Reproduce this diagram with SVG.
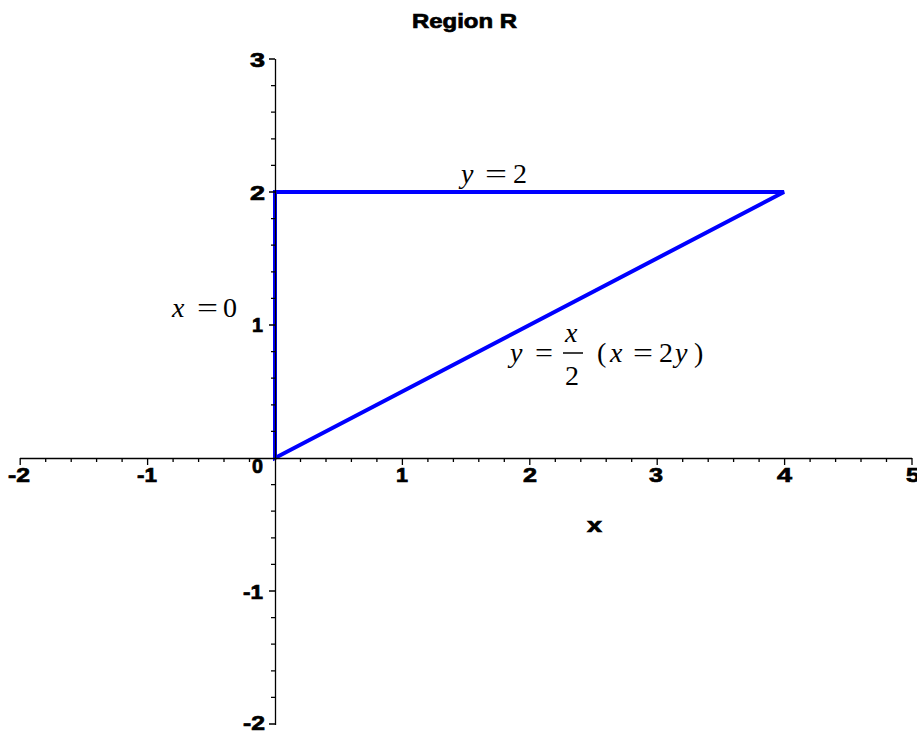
<svg xmlns="http://www.w3.org/2000/svg" width="917" height="734" viewBox="0 0 917 734">
<style>
.ax{stroke:#000;stroke-width:1.3;fill:none}
.tk{stroke:#000;stroke-width:1.3;fill:none}
.lbl{font-family:"Liberation Sans",Arial,sans-serif;font-weight:900;font-size:20px;fill:#000;stroke:#000;stroke-width:0.7}
.m{font-family:"Liberation Serif","Times New Roman",serif;font-size:28px;fill:#000}
.i{font-style:italic}
.reg{stroke:#0000FF;stroke-width:4;fill:none;stroke-linejoin:miter;stroke-linecap:butt}
</style>
<rect width="917" height="734" fill="#FFFFFF"/>
<g id="title"><text class="lbl" x="412" y="28" font-size="22" textLength="105" lengthAdjust="spacingAndGlyphs">Region R</text></g>
<g id="region">
<path class="reg" d="M275,458 L275,192 L784,192 Z"/>
</g>
<g id="axes">
<path class="ax" d="M20,458.5 H912 M275.5,59 V725"/>
<path class="tk" d="M20.2,458 v7 M45.7,458 v4 M71.2,458 v4 M96.6,458 v4 M122.1,458 v4 M147.6,458 v7 M173.1,458 v4 M198.6,458 v4 M224,458 v4 M249.5,458 v4 M300.5,458 v4 M326,458 v4 M351.4,458 v4 M376.9,458 v4 M402.4,458 v7 M427.9,458 v4 M453.4,458 v4 M478.8,458 v4 M504.3,458 v4 M529.8,458 v7 M555.3,458 v4 M580.8,458 v4 M606.2,458 v4 M631.7,458 v4 M657.2,458 v7 M682.7,458 v4 M708.2,458 v4 M733.6,458 v4 M759.1,458 v4 M784.6,458 v7 M810.1,458 v4 M835.6,458 v4 M861,458 v4 M886.5,458 v4 M912,458 v7"/>
<path class="tk" d="M275,59 h-6 M275,85.6 h-4 M275,112.2 h-4 M275,138.8 h-4 M275,165.4 h-4 M275,192 h-6 M275,218.6 h-4 M275,245.2 h-4 M275,271.8 h-4 M275,298.4 h-4 M275,325 h-6 M275,351.6 h-4 M275,378.2 h-4 M275,404.8 h-4 M275,431.4 h-4 M275,484.6 h-4 M275,511.2 h-4 M275,537.8 h-4 M275,564.4 h-4 M275,591 h-6 M275,617.6 h-4 M275,644.2 h-4 M275,670.8 h-4 M275,697.4 h-4 M275,724 h-6"/>
<g class="lbl" lengthAdjust="spacingAndGlyphs">
<text x="8" y="482" textLength="22" lengthAdjust="spacingAndGlyphs">-2</text>
<text x="137" y="482" textLength="20" lengthAdjust="spacingAndGlyphs">-1</text>
<text x="396" y="482" textLength="12" lengthAdjust="spacingAndGlyphs">1</text>
<text x="523" y="482" textLength="14" lengthAdjust="spacingAndGlyphs">2</text>
<text x="649" y="482" textLength="14" lengthAdjust="spacingAndGlyphs">3</text>
<text x="777" y="482" textLength="15" lengthAdjust="spacingAndGlyphs">4</text>
<text x="906" y="482" textLength="14" lengthAdjust="spacingAndGlyphs">5</text>
<text x="252" y="473" textLength="11" lengthAdjust="spacingAndGlyphs">0</text>
<text x="250" y="67" textLength="15" lengthAdjust="spacingAndGlyphs">3</text>
<text x="250" y="200" textLength="15" lengthAdjust="spacingAndGlyphs">2</text>
<text x="252" y="332" textLength="11" lengthAdjust="spacingAndGlyphs">1</text>
<text x="243" y="599" textLength="20" lengthAdjust="spacingAndGlyphs">-1</text>
<text x="243" y="730" textLength="22" lengthAdjust="spacingAndGlyphs">-2</text>
</g>
<text class="lbl" x="587" y="532" textLength="15" lengthAdjust="spacingAndGlyphs">x</text>
</g>
<g id="label-y2">
<text class="m i" x="461" y="183">y</text>
<text class="m" x="485" y="183" textLength="22" lengthAdjust="spacingAndGlyphs">=</text>
<text class="m" x="513" y="183">2</text>
</g>
<g id="label-x0">
<text class="m i" x="172" y="317">x</text>
<text class="m" x="197" y="317" textLength="21" lengthAdjust="spacingAndGlyphs">=</text>
<text class="m" x="223" y="317">0</text>
</g>
<g id="label-diag">
<text class="m i" x="510" y="362">y</text>
<text class="m" x="535" y="362" textLength="18" lengthAdjust="spacingAndGlyphs">=</text>
<text class="m i" x="565" y="342">x</text>
<line x1="563" y1="353" x2="583" y2="353" stroke="#000" stroke-width="1.5"/>
<text class="m" x="565" y="385">2</text>
<text class="m" x="597" y="362">(</text>
<text class="m i" x="610" y="362">x</text>
<text class="m" x="633" y="362" textLength="20" lengthAdjust="spacingAndGlyphs">=</text>
<text class="m" x="659" y="362">2</text>
<text class="m i" x="675" y="362">y</text>
<text class="m" x="694" y="362">)</text>
</g>
</svg>
